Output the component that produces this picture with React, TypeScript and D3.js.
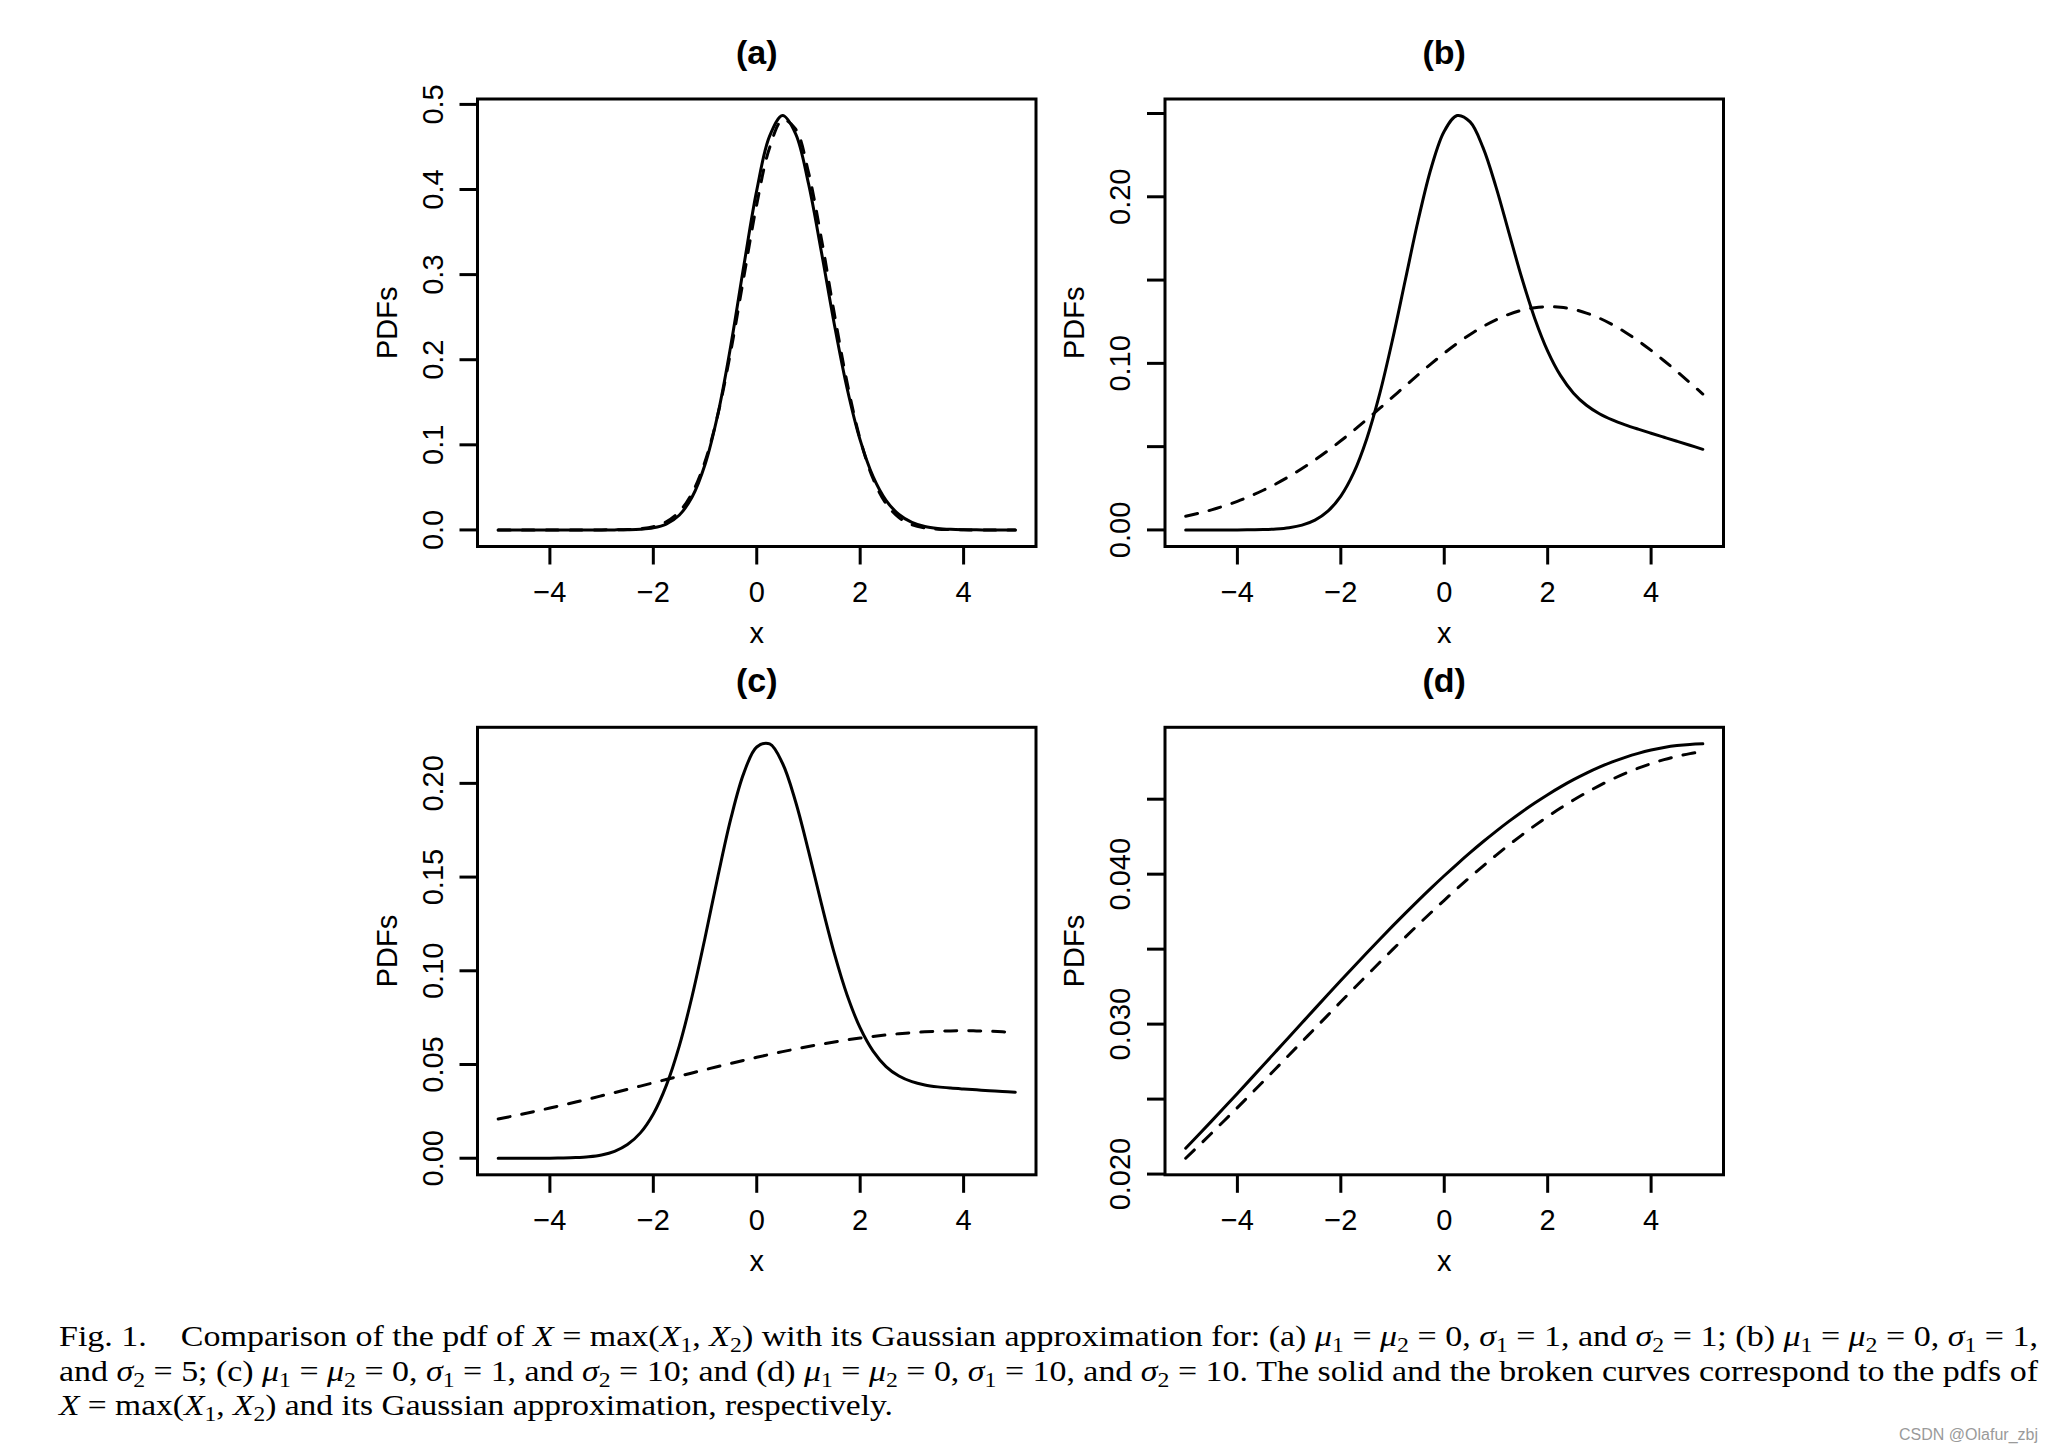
import React from "react";
import * as d3 from "d3";

// ---------- data ----------
const xGrid = [-5, -4.75, -4.5, -4.25, -4, -3.75, -3.5, -3.25, -3, -2.75, -2.5, -2.25, -2, -1.75, -1.5, -1.25, -1, -0.75, -0.5, -0.25, 0, 0.25, 0.5, 0.75, 1, 1.25, 1.5, 1.75, 2, 2.25, 2.5, 2.75, 3, 3.25, 3.5, 3.75, 4, 4.25, 4.5, 4.75, 5];

const solidA = [0, 0, 0, 0, 0, 0, 0, 0.000002, 0.000012, 0.000054, 0.000218, 0.000776, 0.002457, 0.006912, 0.017306, 0.038594, 0.076781, 0.136492, 0.217251, 0.310335, 0.398942, 0.463001, 0.486879, 0.465782, 0.407161, 0.326705, 0.241731, 0.165642, 0.105525, 0.062704, 0.034838, 0.018134, 0.008852, 0.004056, 0.001746, 0.000706, 0.000268, 0.000095, 0.000032, 0.00001, 0.000003];
const dashedA = [0, 0, 0, 0, 0, 0, 0.000003, 0.000011, 0.000043, 0.000153, 0.000494, 0.001451, 0.003889, 0.00951, 0.021229, 0.043225, 0.080308, 0.136140, 0.210560, 0.297140, 0.382587, 0.449436, 0.481727, 0.471104, 0.420356, 0.342209, 0.254191, 0.172277, 0.106523, 0.060098, 0.030924, 0.014523, 0.006227, 0.002433, 0.000868, 0.000283, 0.000084, 0.000023, 0.000006, 0.000001, 0];

const solidB = [0, 0.000001, 0.000003, 0.00001, 0.00003, 0.000085, 0.000226, 0.00056, 0.001305, 0.002852, 0.005845, 0.01124, 0.02028, 0.034339, 0.054583, 0.081466, 0.114214, 0.150495, 0.186505, 0.217603, 0.239365, 0.248754, 0.244951, 0.229538, 0.205965, 0.178516, 0.151213, 0.126985, 0.107366, 0.092606, 0.082096, 0.07483, 0.069772, 0.066063, 0.063098, 0.060495, 0.058042, 0.055635, 0.05323, 0.050816, 0.048395];
const dashedB = [0.008216, 0.009987, 0.01205, 0.014438, 0.017176, 0.020294, 0.023806, 0.02773, 0.032076, 0.036841, 0.042014, 0.04758, 0.053504, 0.05974, 0.066237, 0.072923, 0.079721, 0.086538, 0.09328, 0.09984, 0.106112, 0.111981, 0.117347, 0.122106, 0.126165, 0.129443, 0.131873, 0.133404, 0.134004, 0.133661, 0.132383, 0.130194, 0.127143, 0.12329, 0.118713, 0.113504, 0.10776, 0.101587, 0.095096, 0.088395, 0.081587];

const solidC = [0.0000005, 0.000002, 0.000005, 0.000016, 0.000047, 0.000128, 0.000326, 0.000778, 0.001745, 0.003676, 0.007274, 0.01352, 0.023606, 0.03872, 0.059672, 0.086422, 0.117647, 0.150583, 0.181307, 0.205482, 0.219418, 0.221067, 0.210603, 0.190336, 0.16402, 0.135811, 0.109294, 0.086845, 0.06949, 0.057117, 0.048921, 0.043831, 0.040826, 0.039093, 0.038071, 0.03741, 0.036915, 0.036481, 0.036064, 0.035641, 0.035208];
const dashedC = [0.020916, 0.02231, 0.023754, 0.025246, 0.026782, 0.02836, 0.029977, 0.031628, 0.03331, 0.035018, 0.036747, 0.03849, 0.040244, 0.042001, 0.043755, 0.0455, 0.047228, 0.048934, 0.050609, 0.052246, 0.053838, 0.055378, 0.056858, 0.058272, 0.059614, 0.060876, 0.062052, 0.063135, 0.064122, 0.065005, 0.065781, 0.066446, 0.066996, 0.067427, 0.067738, 0.067928, 0.067994, 0.067937, 0.067757, 0.067454, 0.067032];

const solidD = [0.021725, 0.022623, 0.023532, 0.024452, 0.02538, 0.026315, 0.027255, 0.028199, 0.029145, 0.03009, 0.031034, 0.031973, 0.032906, 0.03383, 0.034744, 0.035646, 0.036533, 0.037403, 0.038255, 0.039086, 0.039894, 0.040677, 0.041433, 0.04216, 0.042857, 0.043521, 0.044152, 0.044746, 0.045303, 0.045822, 0.0463, 0.046737, 0.047133, 0.047485, 0.047793, 0.048057, 0.048275, 0.048447, 0.048574, 0.048654, 0.048689];
const dashedD = [0.021057, 0.021885, 0.022725, 0.023576, 0.024435, 0.025303, 0.026178, 0.027058, 0.027942, 0.028829, 0.029717, 0.030603, 0.031487, 0.032367, 0.033241, 0.034108, 0.034965, 0.03581, 0.036643, 0.037461, 0.038259, 0.039041, 0.039802, 0.04054, 0.041256, 0.041945, 0.042607, 0.043239, 0.04384, 0.044409, 0.044944, 0.045444, 0.045908, 0.046334, 0.04672, 0.047067, 0.047373, 0.047637, 0.047859, 0.048038, 0.048173];

const xTicks = [-4, -2, 0, 2, 4];
const xTickLabels = ["\u22124", "\u22122", "0", "2", "4"];

const yTicksA = [0, 0.1, 0.2, 0.3, 0.4, 0.5];
const yLabelsA = ["0.0", "0.1", "0.2", "0.3", "0.4", "0.5"];
const yTicksB = [0, 0.05, 0.1, 0.15, 0.2, 0.25];
const yLabelsB = ["0.00", "", "0.10", "", "0.20", ""];
const yTicksC = [0, 0.05, 0.1, 0.15, 0.2];
const yLabelsC = ["0.00", "0.05", "0.10", "0.15", "0.20"];
const yTicksD = [0.02, 0.025, 0.03, 0.035, 0.04, 0.045];
const yLabelsD = ["0.020", "", "0.030", "", "0.040", ""];

const panelTitles = ["(a)", "(b)", "(c)", "(d)"];
const xAxisTitle = "x";
const yAxisTitle = "PDFs";

const captionLines = [
  "Fig. 1.\u2002\u2002Comparison of the pdf of $X$ = max($X$_1, $X$_2) with its Gaussian approximation for: (a) $\u03bc$_1 = $\u03bc$_2 = 0, $\u03c3$_1 = 1, and $\u03c3$_2 = 1; (b) $\u03bc$_1 = $\u03bc$_2 = 0, $\u03c3$_1 = 1,",
  "and $\u03c3$_2 = 5; (c) $\u03bc$_1 = $\u03bc$_2 = 0, $\u03c3$_1 = 1, and $\u03c3$_2 = 10; and (d) $\u03bc$_1 = $\u03bc$_2 = 0, $\u03c3$_1 = 10, and $\u03c3$_2 = 10. The solid and the broken curves correspond to the pdfs of",
  "$X$ = max($X$_1, $X$_2) and its Gaussian approximation, respectively.",
];
const watermark = "CSDN @Olafur_zbj";

// ---------- layout ----------
const W = 2051;
const H = 1450;
const PW = 558.5;
const PH = 447.5;
const LEFTS = [477.5, 1165];
const TOPS = [99, 727.3];
const SANS = "'Liberation Sans', Arial, Helvetica, sans-serif";
const SERIF = "'Liberation Serif', 'Times New Roman', Times, serif";
const FS = 29;

type PanelSpec = {
  title: string;
  solid: number[];
  dashed: number[];
  yTicks: number[];
  yLabels: string[];
  left: number;
  top: number;
};

const panels: PanelSpec[] = [
  { title: panelTitles[0], solid: solidA, dashed: dashedA, yTicks: yTicksA, yLabels: yLabelsA, left: LEFTS[0], top: TOPS[0] },
  { title: panelTitles[1], solid: solidB, dashed: dashedB, yTicks: yTicksB, yLabels: yLabelsB, left: LEFTS[1], top: TOPS[0] },
  { title: panelTitles[2], solid: solidC, dashed: dashedC, yTicks: yTicksC, yLabels: yLabelsC, left: LEFTS[0], top: TOPS[1] },
  { title: panelTitles[3], solid: solidD, dashed: dashedD, yTicks: yTicksD, yLabels: yLabelsD, left: LEFTS[1], top: TOPS[1] },
];

function Panel({ p }: { p: PanelSpec }) {
  const [x0, x1] = d3.extent(xGrid) as [number, number];
  const xpad = (x1 - x0) * 0.04;
  const x = d3.scaleLinear().domain([x0 - xpad, x1 + xpad]).range([0, PW]);
  const [lo, hi] = d3.extent(p.solid.concat(p.dashed)) as [number, number];
  const ypad = (hi - lo) * 0.04;
  const y = d3.scaleLinear().domain([lo - ypad, hi + ypad]).range([PH, 0]);
  const line = d3
    .line<number>()
    .x((_, i) => x(xGrid[i]))
    .y((d) => y(d))
    .curve(d3.curveCatmullRom.alpha(0.5));
  const TK = 18;
  const SW = 3;
  return (
    <g transform={`translate(${p.left},${p.top})`}>
      <text x={PW / 2} y={-35} textAnchor="middle" fontFamily={SANS} fontWeight="bold" fontSize={34}>
        {p.title}
      </text>
      <path
        d={line(p.dashed) || ""}
        fill="none"
        stroke="#000"
        strokeWidth={SW}
        strokeDasharray="12,12"
        strokeLinecap="round"
      />
      <path d={line(p.solid) || ""} fill="none" stroke="#000" strokeWidth={SW} strokeLinecap="round" strokeLinejoin="round" />
      <rect x={0} y={0} width={PW} height={PH} fill="none" stroke="#000" strokeWidth={SW} />
      {xTicks.map((t, i) => (
        <g key={"x" + i}>
          <line x1={x(t)} x2={x(t)} y1={PH} y2={PH + TK} stroke="#000" strokeWidth={SW} />
          <text x={x(t)} y={PH + 55} textAnchor="middle" fontFamily={SANS} fontSize={FS}>
            {xTickLabels[i]}
          </text>
        </g>
      ))}
      {p.yTicks.map((t, i) => (
        <g key={"y" + i}>
          <line x1={-TK} x2={0} y1={y(t)} y2={y(t)} stroke="#000" strokeWidth={SW} />
          {p.yLabels[i] ? (
            <text
              transform={`translate(${-45},${y(t)}) rotate(-90)`}
              textAnchor="middle"
              dy="0.35em"
              fontFamily={SANS}
              fontSize={FS}
            >
              {p.yLabels[i]}
            </text>
          ) : null}
        </g>
      ))}
      <text x={PW / 2} y={PH + 96} textAnchor="middle" fontFamily={SANS} fontSize={FS}>
        {xAxisTitle}
      </text>
      <text
        transform={`translate(${-91},${PH / 2}) rotate(-90)`}
        textAnchor="middle"
        dy="0.35em"
        fontFamily={SANS}
        fontSize={FS}
      >
        {yAxisTitle}
      </text>
    </g>
  );
}

function CaptionLine({ text, x, y, width }: { text: string; x: number; y: number; width: number }) {
  const parts = text.split(/(\$[^$]+\$|_\d+)/).filter((s) => s.length > 0);
  const SUB = 6;
  let shift = 0;
  const spans = parts.map((s, i) => {
    if (s.startsWith("$")) {
      const dy = -shift;
      shift = 0;
      return (
        <tspan key={i} dy={dy} fontStyle="italic">
          {s.slice(1, -1)}
        </tspan>
      );
    }
    if (s.startsWith("_")) {
      const dy = SUB - shift;
      shift = SUB;
      return (
        <tspan key={i} dy={dy} fontSize={21}>
          {s.slice(1)}
        </tspan>
      );
    }
    const dy = -shift;
    shift = 0;
    return (
      <tspan key={i} dy={dy}>
        {s}
      </tspan>
    );
  });
  return (
    <text
      x={x}
      y={y}
      fontFamily={SERIF}
      fontSize={30}
      textLength={width}
      lengthAdjust="spacingAndGlyphs"
      style={{ whiteSpace: "pre" }}
    >
      {spans}
    </text>
  );
}

export default function App() {
  return (
    <svg
      width={W}
      height={H}
      viewBox={`0 0 ${W} ${H}`}
      style={{ position: "absolute", left: 0, top: 0, background: "#fff" }}
    >
      <rect x={0} y={0} width={W} height={H} fill="#fff" />
      {panels.map((p, i) => (
        <Panel key={i} p={p} />
      ))}
      <CaptionLine text={captionLines[0]} x={59} y={1346} width={1979} />
      <CaptionLine text={captionLines[1]} x={59} y={1381} width={1979} />
      <CaptionLine text={captionLines[2]} x={59} y={1415} width={834} />
      <text x={2038} y={1440} textAnchor="end" fontFamily={SANS} fontSize={16} fill="#9a9a9a">
        {watermark}
      </text>
    </svg>
  );
}
